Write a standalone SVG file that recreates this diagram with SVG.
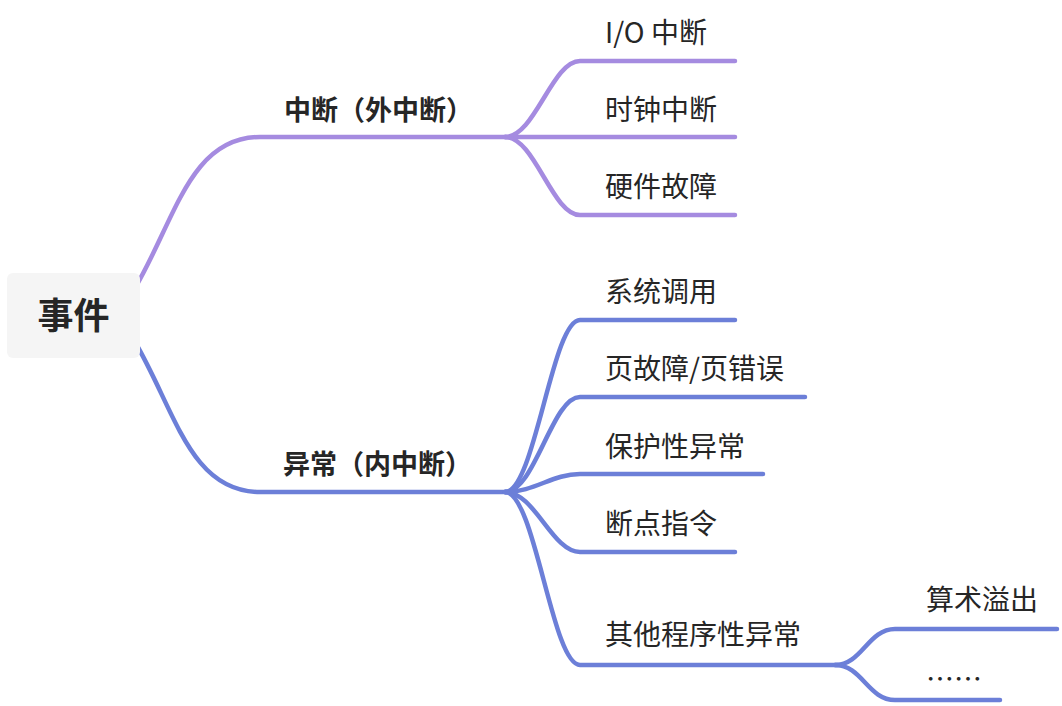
<svg xmlns="http://www.w3.org/2000/svg" width="1062" height="706" viewBox="0 0 1062 706">
<style>
text{font-family:"Noto Sans CJK SC","Noto Sans",sans-serif;fill:#262626}
.root{font-size:36px;font-weight:bold}
.l1{font-size:27px;font-weight:bold}
.l2{font-size:28px}
.p{fill:none;stroke:#a58be0;stroke-width:4.5;stroke-linecap:round}
.b{fill:none;stroke:#6c7fd8;stroke-width:4.5;stroke-linecap:round}
</style>
<rect width="1062" height="706" fill="#ffffff"/>
<g id="connectors">
<path class="p" d="M135 288 C175 220 190 137 260 137 L513 137"/>
<path class="p" d="M505 137 C535 137 552 61 580 61 L735 61"/>
<path class="p" d="M505 137 L735 137"/>
<path class="p" d="M505 137 C535 137 552 215 580 215 L735 215"/>
<path class="b" d="M135 342 C175 410 190 492 260 492 L513 492"/>
<path class="b" d="M505 492 C535 492 552 320 580 320 L735 320"/>
<path class="b" d="M505 492 C535 492 552 397 580 397 L805 397"/>
<path class="b" d="M505 492 C535 492 552 474 580 474 L763 474"/>
<path class="b" d="M505 492 C535 492 552 552 580 552 L735 552"/>
<path class="b" d="M505 492 C535 492 552 665 580 665 L840 665"/>
<path class="b" d="M835 665 C862 665 868 629 895 629 L1057 629"/>
<path class="b" d="M835 665 C862 665 868 700 895 700 L1000 700"/>
</g>
<g id="root">
<rect x="7" y="273" width="133" height="85" rx="6" fill="#f5f5f5"/>
<text class="root" x="73.5" y="328.5" text-anchor="middle">事件</text>
</g>
<g id="n-interrupt"><text class="l1" x="284" y="119.5">中断（外中断）</text></g>
<g id="n-exception"><text class="l1" x="283" y="473.5">异常（内中断）</text></g>
<g id="n-io"><text class="l2" x="605" y="42.5">I/O 中断</text></g>
<g id="n-clock"><text class="l2" x="605" y="120">时钟中断</text></g>
<g id="n-hw"><text class="l2" x="605" y="197">硬件故障</text></g>
<g id="n-syscall"><text class="l2" x="605" y="302">系统调用</text></g>
<g id="n-page"><text class="l2" x="605" y="379">页故障/页错误</text></g>
<g id="n-protect"><text class="l2" x="605" y="457">保护性异常</text></g>
<g id="n-break"><text class="l2" x="605" y="534">断点指令</text></g>
<g id="n-other"><text class="l2" x="605" y="645">其他程序性异常</text></g>
<g id="n-overflow"><text class="l2" x="926" y="610">算术溢出</text></g>
<g id="n-etc"><text class="l2" x="926" y="690">……</text></g>
</svg>
